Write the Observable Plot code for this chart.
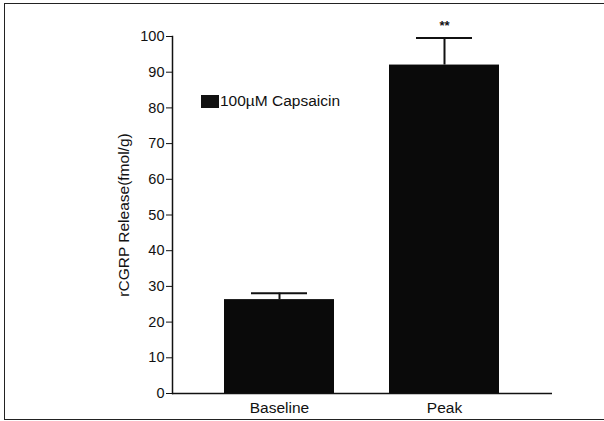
<!DOCTYPE html>
<html><head><meta charset="utf-8">
<script src="https://cdn.jsdelivr.net/npm/d3@7"></script>
<script src="https://cdn.jsdelivr.net/npm/@observablehq/plot@0.6"></script>
<style>
html,body{margin:0;padding:0;background:#fff;font-family:"Liberation Sans",Arial,sans-serif;overflow:hidden;}
#wrap{position:relative;width:604px;height:421px;overflow:hidden;}
#frame{position:absolute;left:4px;top:3px;width:600px;height:417px;border:1.5px solid #222;border-right:none;box-sizing:border-box;pointer-events:none;}
#legend{position:absolute;left:201px;top:92px;font-size:15.5px;display:flex;align-items:center;color:#111;}
#legend .sw{width:18px;height:13px;background:#111;margin-right:1px;}
</style></head>
<body><div id="wrap"><div id="frame"></div><div id="legend"><div class="sw"></div><span>100µM Capsaicin</span></div></div>
<script>
const categories = ["Baseline", "Peak"];
const means = [26.3, 92.0];
const errors = [1.8, 7.6];
const marks = ["", "**"];
const yTicks = [0,10,20,30,40,50,60,70,80,90,100];

const data = categories.map((c,i)=>({cat:c, mean:means[i], hi:means[i]+errors[i], mark:marks[i]}));

const chart = Plot.plot({
  width: 604, height: 421,
  marginLeft: 172, marginRight: 52, marginTop: 36, marginBottom: 28,
  style: {fontFamily: '"Liberation Sans", Arial, sans-serif', fontSize: "15px", color: "#111", background: "transparent"},
  x: {domain: categories, paddingInner: 0.333, paddingOuter: 0.318, label: null},
  y: {domain: [0,100], ticks: yTicks, label: "rCGRP Release(fmol/g)"},
  marks: [
    Plot.axisY({ticks: yTicks, tickSize: 6, tickPadding: 2, label: null, fontSize: 14.5}),
    Plot.axisY({ticks: [], tickSize: 0, label: "rCGRP Release(fmol/g)", labelAnchor: "center", labelArrow: "none", labelOffset: 55, fontSize: 15.5}),
    Plot.axisX({tickSize: 0, tickPadding: 8, fontSize: 15.5, label: null}),
    Plot.barY(data, {x: "cat", y: "mean", fill: "#0a0a0a"}),
    Plot.ruleX(data, {x: "cat", y1: "mean", y2: "hi", stroke: "#111", strokeWidth: 2}),
    Plot.tickY(data, {x: "cat", y: "hi", stroke: "#111", strokeWidth: 2, insetLeft: 27, insetRight: 27}),
    Plot.text(data, {x: "cat", y: "hi", text: "mark", dy: -12, fontSize: 13, fontWeight: "bold", fill: "#111"}),
    Plot.ruleY([0], {stroke: "#111", strokeWidth: 1.5}),
    Plot.frame({anchor: "left", stroke: "#111", strokeWidth: 1.5})
  ]
});
document.getElementById("wrap").prepend(chart);
chart.style.position = "absolute"; chart.style.left = "0"; chart.style.top = "0";
</script>
</body></html>
